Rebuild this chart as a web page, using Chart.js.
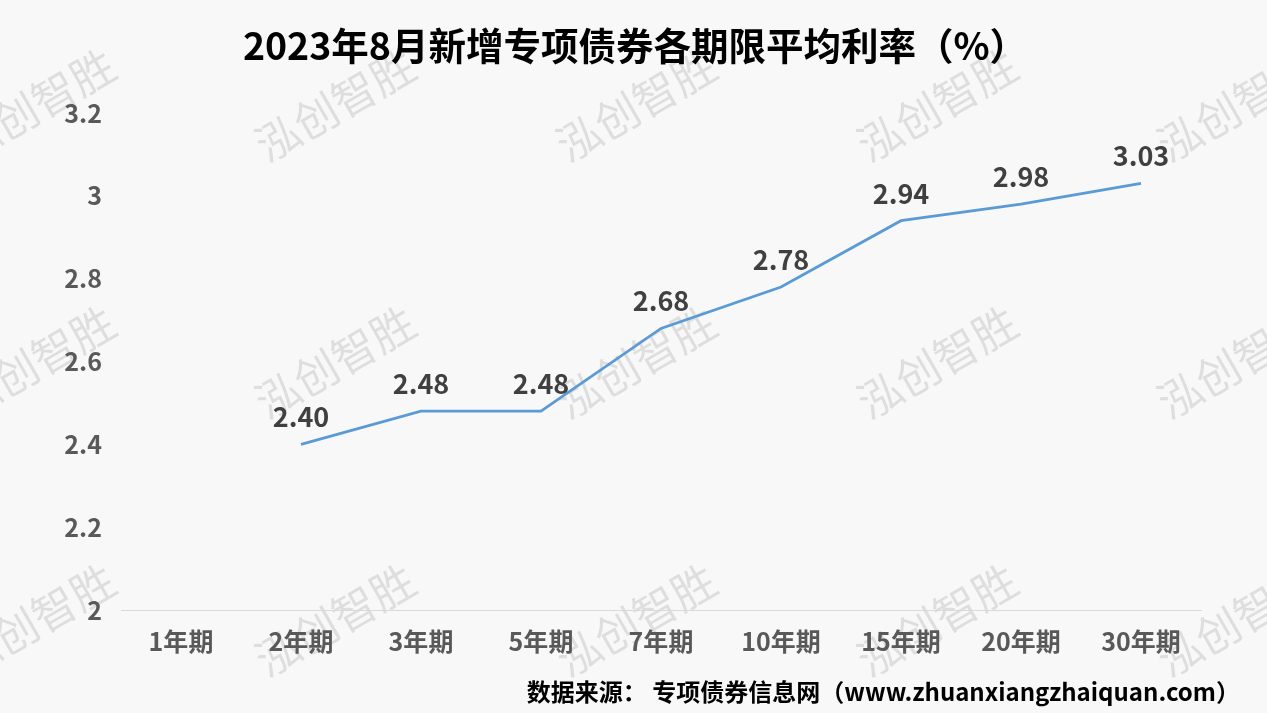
<!DOCTYPE html>
<html lang="zh">
<head>
<meta charset="UTF-8">
<title>2023年8月新增专项债券各期限平均利率</title>
<style type="text/css">
    body {
        margin: 0;
        background: #f8f8f8;
    }
    .wrap {
        position: relative;
        width: 1267px;
        height: 713px;
        font-family: "Noto Sans CJK SC", "Noto Sans", sans-serif;
    }
    .title {
        position: absolute;
        left: 0;
        width: 1270px;
        top: 23px;
        line-height: 42px;
        font-size: 37.5px;
        font-weight: bold;
        color: #000;
        text-align: center;
        z-index: 2;
    }
    .source {
        position: absolute;
        right: 27px;
        top: 677px;
        line-height: 28px;
        font-size: 24px;
        font-weight: bold;
        color: #000;
        white-space: nowrap;
        z-index: 2;
    }
    canvas {
        position: absolute;
        left: 0;
        top: 0;
    }
</style>
<script src="https://cdn.jsdelivr.net/npm/chart.js"></script>
</head>
<body>
<div class="wrap">
    <div class="title">2023年8月新增专项债券各期限平均利率（%）</div>
    <canvas id="rateChart" width="1267" height="713"></canvas>
    <div class="source">数据来源： 专项债券信息网（www.zhuanxiangzhaiquan.com）</div>
</div>

<script>
    // chart data
    const terms = ['1年期', '2年期', '3年期', '5年期', '7年期', '10年期', '15年期', '20年期', '30年期'];
    const avgRates = [null, 2.40, 2.48, 2.48, 2.68, 2.78, 2.94, 2.98, 3.03];
    const yMin = 2;
    const yMax = 3.2;
    const yStep = 0.2;

    const FONT = '"Noto Sans CJK SC", "Noto Sans", sans-serif';

    // background + watermark, drawn under everything
    const watermark = {
        id: 'watermark',
        beforeDraw(chart) {
            const ctx = chart.ctx;
            ctx.save();
            ctx.fillStyle = '#f8f8f8';
            ctx.fillRect(0, 0, chart.width, chart.height);
            ctx.font = '44px ' + FONT;
            ctx.fillStyle = 'rgba(0, 0, 0, 0.10)';
            ctx.textAlign = 'center';
            ctx.textBaseline = 'middle';
            const xs = [35, 335, 636, 937, 1237];
            const ys = [105, 362, 620];
            xs.forEach(x => {
                ys.forEach(y => {
                    ctx.save();
                    ctx.translate(x, y);
                    ctx.rotate(-30 * Math.PI / 180);
                    ctx.fillText('泓创智胜', 0, 0);
                    ctx.restore();
                });
            });
            ctx.restore();
        }
    };

    // value labels above the points
    const valueLabels = {
        id: 'valueLabels',
        afterDatasetsDraw(chart) {
            const ctx = chart.ctx;
            const meta = chart.getDatasetMeta(0);
            ctx.save();
            ctx.font = 'bold 27px ' + FONT;
            ctx.fillStyle = '#404040';
            ctx.textAlign = 'center';
            ctx.textBaseline = 'alphabetic';
            meta.data.forEach((pt, i) => {
                const v = avgRates[i];
                if (v == null) return;
                ctx.fillText(v.toFixed(2), pt.x, pt.y - 17);
            });
            ctx.restore();
        }
    };

    const config = {
        type: 'line',
        data: {
            labels: terms,
            datasets: [{
                label: '平均利率',
                data: avgRates,
                borderColor: '#5b9bd5',
                borderWidth: 2.75,
                pointRadius: 0,
                tension: 0,
                fill: false
            }]
        },
        options: {
            responsive: false,
            animation: false,
            devicePixelRatio: 1,
            layout: {
                padding: { top: 113, right: 66, bottom: 49, left: 0 }
            },
            plugins: {
                legend: { display: false },
                tooltip: { enabled: false },
                title: { display: false }
            },
            scales: {
                x: {
                    type: 'category',
                    offset: true,
                    grid: { display: false },
                    border: { display: true, color: '#d9d9d9', width: 1 },
                    ticks: {
                        autoSkip: false,
                        maxRotation: 0,
                        padding: 8,
                        color: '#595959',
                        font: { family: FONT, size: 25, weight: 'bold' }
                    }
                },
                y: {
                    min: yMin,
                    max: yMax,
                    grid: { display: false },
                    border: { display: false },
                    ticks: {
                        stepSize: yStep,
                        padding: 11,
                        color: '#595959',
                        font: { family: FONT, size: 25, weight: 'bold' },
                        callback: v => String(+v.toFixed(1))
                    },
                    afterFit(scale) {
                        scale.width = 121;
                    }
                }
            }
        },
        plugins: [watermark, valueLabels]
    };

    const rateChart = new Chart(document.getElementById('rateChart'), config);
</script>
</body>
</html>
